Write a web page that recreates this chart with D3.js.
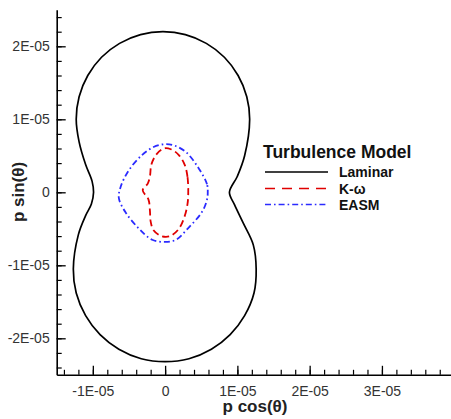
<!DOCTYPE html>
<html><head><meta charset="utf-8">
<script src="https://cdn.jsdelivr.net/npm/d3@7"></script>
<style>
html,body{margin:0;padding:0;background:#fff;}
svg{display:block;font-family:"Liberation Sans",Arial,Helvetica,sans-serif;}
</style></head>
<body>
<svg id="chart" width="451" height="419"></svg>
<script>
// ---- data (values in units of 1E-05) ----
const SCALE = 1e-5;
const xTickValues = [-1, 0, 1, 2, 3];
const xTickLabels = ["-1E-05", "0", "1E-05", "2E-05", "3E-05"];
const yTickValues = [-2, -1, 0, 1, 2];
const yTickLabels = ["-2E-05", "-1E-05", "0", "1E-05", "2E-05"];
const seriesNames = ["Laminar", "K-\u03c9", "EASM"];

// Laminar: p cos(theta), p sin(theta)
const laminarX = [0.89, 1.00, 1.10, 1.17, 1.13, 1.01, 0.82, 0.57, 0.28, -0.03, -0.34, -0.63, -0.88, -1.07, -1.19, -1.23, -1.19, -1.10, -1.01, -0.99, -1.02, -1.10, -1.20, -1.27, -1.23, -1.10, -0.90, -0.64, -0.33, 0.00, 0.33, 0.64, 0.90, 1.10, 1.23, 1.26, 1.22, 1.08, 0.96];
const laminarY = [0.00, 0.22, 0.50, 1.00, 1.31, 1.60, 1.85, 2.04, 2.16, 2.20, 2.16, 2.04, 1.85, 1.60, 1.31, 1.00, 0.69, 0.38, 0.15, 0.00, -0.16, -0.32, -0.58, -1.05, -1.38, -1.69, -1.95, -2.15, -2.28, -2.32, -2.28, -2.15, -1.95, -1.69, -1.38, -1.05, -0.72, -0.42, -0.17];

// K-omega
const komegaX = [0.32, 0.31, 0.27, 0.19, 0.08, -0.02, -0.12, -0.19, -0.21, -0.24, -0.31, -0.23, -0.21, -0.20, -0.16, -0.05, 0.07, 0.19, 0.27, 0.31];
const komegaY = [-0.01, 0.21, 0.38, 0.51, 0.59, 0.60, 0.52, 0.38, 0.22, 0.12, 0.03, -0.10, -0.25, -0.40, -0.52, -0.60, -0.60, -0.50, -0.33, -0.16];

// EASM
const easmX = [0.59, 0.58, 0.47, 0.29, 0.13, 0.00, -0.16, -0.32, -0.51, -0.62, -0.64, -0.55, -0.37, -0.18, 0.00, 0.15, 0.32, 0.51, 0.58];
const easmY = [0.00, 0.11, 0.32, 0.55, 0.64, 0.66, 0.62, 0.51, 0.29, 0.06, -0.08, -0.27, -0.49, -0.65, -0.68, -0.65, -0.49, -0.27, -0.10];

// ---- drawing ----
const svg = d3.select("#chart");
const x = d3.scaleLinear().domain([-1.5 * SCALE, 4 * SCALE]).range([56.7, 454.2]);
const y = d3.scaleLinear().domain([-2.5 * SCALE, 2.5 * SCALE]).range([374.8, 9.8]);

const zip = (xs, ys) => xs.map((v, i) => [v * SCALE, ys[i] * SCALE]);
const line = d3.line().x(d => x(d[0])).y(d => y(d[1])).curve(d3.curveCatmullRomClosed.alpha(0.5));

const styles = [
  {color: "#000000", dash: null, width: 1.7},
  {color: "#e00000", dash: "7,4", width: 1.8},
  {color: "#2b2bff", dash: "6,3,1.6,3", width: 1.8}
];
const series = [zip(laminarX, laminarY), zip(komegaX, komegaY), zip(easmX, easmY)];

svg.append("g").selectAll("path").data(series).join("path")
  .attr("d", d => line(d))
  .attr("fill", "none")
  .attr("stroke", (d, i) => styles[i].color)
  .attr("stroke-width", (d, i) => styles[i].width)
  .attr("stroke-dasharray", (d, i) => styles[i].dash);

// minor ticks
const xMinor = d3.range(-14, 40, 2).map(v => v / 10 * SCALE);
const yMinor = d3.range(-24, 26, 2).map(v => v / 10 * SCALE);

const xAxisY = y(-2.5 * SCALE);
const yAxisX = x(-1.5 * SCALE);

const gxMinor = svg.append("g").attr("transform", `translate(0,${xAxisY})`)
  .call(d3.axisBottom(x).tickValues(xMinor).tickSizeInner(-5).tickSizeOuter(0).tickFormat(""));
const gyMinor = svg.append("g").attr("transform", `translate(${yAxisX},0)`)
  .call(d3.axisLeft(y).tickValues(yMinor).tickSizeInner(-5).tickSizeOuter(0).tickFormat(""));
[gxMinor, gyMinor].forEach(g => { g.select(".domain").remove(); g.selectAll("line").attr("stroke", "#000").attr("stroke-width", 1.2); });

const gx = svg.append("g").attr("transform", `translate(0,${xAxisY})`)
  .call(d3.axisBottom(x).tickValues(xTickValues.map(v => v * SCALE)).tickSizeInner(-9).tickSizeOuter(0).tickPadding(11)
    .tickFormat((d, i) => xTickLabels[i]));
const gy = svg.append("g").attr("transform", `translate(${yAxisX},0)`)
  .call(d3.axisLeft(y).tickValues(yTickValues.map(v => v * SCALE)).tickSizeInner(-9).tickSizeOuter(0).tickPadding(7)
    .tickFormat((d, i) => yTickLabels[i]));
[gx, gy].forEach(g => {
  g.select(".domain").attr("stroke", "#000").attr("stroke-width", 1.6);
  g.selectAll("line").attr("stroke", "#000").attr("stroke-width", 1.3);
  g.selectAll("text").attr("font-size", 14).attr("fill", "#333")
    .attr("font-family", "'Liberation Sans',Arial,sans-serif");
});

// axis titles
svg.append("text").attr("x", 255).attr("y", 412).attr("text-anchor", "middle")
  .attr("font-size", 17).attr("font-weight", "bold").attr("fill", "#222")
  .text("p cos(\u03b8)");
svg.append("text").attr("transform", "translate(24,192) rotate(-90)").attr("text-anchor", "middle")
  .attr("font-size", 17).attr("font-weight", "bold").attr("fill", "#222")
  .text("p sin(\u03b8)");

// legend
const legend = svg.append("g");
legend.append("text").attr("x", 263).attr("y", 158).attr("font-size", 17.5).attr("font-weight", "bold")
  .attr("fill", "#111").text("Turbulence Model");
const rowY = [172, 188.5, 204.5];
seriesNames.forEach((name, i) => {
  legend.append("line").attr("x1", 265).attr("x2", 328).attr("y1", rowY[i]).attr("y2", rowY[i])
    .attr("stroke", styles[i].color).attr("stroke-width", 1.6)
    .attr("stroke-dasharray", i === 1 ? "10,7" : (i === 2 ? "6,3,1.6,3" : null));
  legend.append("text").attr("x", 339).attr("y", rowY[i] + 5).attr("font-size", 14)
    .attr("font-weight", "bold").attr("fill", "#111").text(name);
});
</script>
</body></html>
